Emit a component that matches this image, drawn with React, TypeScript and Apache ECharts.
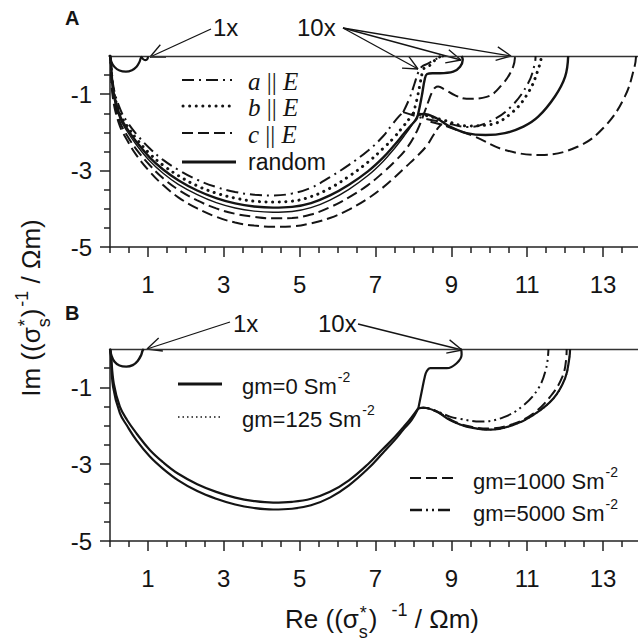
import React, { useEffect, useRef } from 'react';
import * as echarts from 'echarts';

// ---------- axis ticks / labels ----------
const X_MAJOR = [1, 3, 5, 7, 9, 11, 13];
const X_MINOR = [0, 0.5, 1.5, 2, 2.5, 3.5, 4, 4.5, 5.5, 6, 6.5, 7.5, 8, 8.5, 9.5, 10, 10.5, 11.5, 12, 12.5, 13.5, 14];
const Y_MAJOR = [-5, -3, -1];
const Y_MINOR = [-4.5, -4, -3.5, -2.5, -2, -1.5, -0.5];

// ---------- Panel A ----------
const A_1x = [[0, 0], [0.04, -0.16], [0.12, -0.29], [0.25, -0.38], [0.42, -0.41], [0.58, -0.37], [0.7, -0.28], [0.78, -0.15], [0.83, -0.02], [0.87, -0.08], [0.93, -0.11], [0.99, -0.07], [1.0, -0.01]];

// a || E (dash-dot)
const A_a_main = [[0, 0], [0.02, -0.12], [0.1, -0.85], [0.28, -1.42], [0.45, -1.72], [0.7, -2.05], [1.05, -2.42], [1.4, -2.72], [1.8, -2.98], [2.3, -3.24], [2.8, -3.43], [3.3, -3.56], [3.8, -3.63], [4.3, -3.65], [4.8, -3.6], [5.3, -3.45], [5.8, -3.17], [6.3, -2.85], [6.8, -2.48], [7.2, -2.1], [7.45, -1.78], [7.6, -1.6], [7.73, -1.47]];
const A_a_loop = [[7.73, -1.47], [7.9, -1.1], [8.03, -0.72], [8.13, -0.42], [8.22, -0.28], [8.38, -0.2], [8.55, -0.1], [8.7, -0.03], [8.8, 0]];
const A_a_arc2 = [[7.73, -1.47], [8.26, -1.63], [8.82, -1.74], [9.44, -1.86], [10.04, -1.7], [10.57, -1.33], [11.02, -0.72], [11.2, -0.2], [11.22, 0]];

// b || E (dotted)
const A_b_main = [[0, 0], [0.02, -0.12], [0.09, -0.9], [0.27, -1.52], [0.45, -1.83], [0.7, -2.17], [1.05, -2.56], [1.4, -2.86], [1.8, -3.13], [2.3, -3.4], [2.8, -3.59], [3.3, -3.72], [3.8, -3.8], [4.3, -3.82], [4.8, -3.8], [5.3, -3.68], [5.8, -3.46], [6.3, -3.15], [6.8, -2.78], [7.2, -2.42], [7.5, -2.12], [7.75, -1.82], [7.9, -1.63], [8.0, -1.5]];
const A_b_loop = [[8.0, -1.5], [8.1, -1.1], [8.18, -0.7], [8.24, -0.42], [8.3, -0.3], [8.4, -0.27], [8.5, -0.18], [8.62, -0.06], [8.75, 0]];
const A_b_arc2 = [[8.0, -1.5], [8.3, -1.55], [8.8, -1.68], [9.4, -1.83], [10.0, -1.8], [10.6, -1.48], [11.05, -0.92], [11.3, -0.32], [11.38, 0]];

// c || E (dashed) - two traces
const A_c1_main = [[0, 0], [0.02, -0.12], [0.08, -1.0], [0.25, -1.7], [0.45, -2.08], [0.7, -2.45], [1.05, -2.86], [1.4, -3.2], [1.8, -3.5], [2.3, -3.78], [2.8, -3.99], [3.3, -4.13], [3.8, -4.21], [4.3, -4.25], [4.8, -4.24], [5.3, -4.15], [5.8, -3.96], [6.3, -3.7], [6.8, -3.38], [7.2, -3.05], [7.5, -2.77], [7.82, -2.42], [8.1, -1.95], [8.3, -1.45], [8.42, -1.12], [8.5, -0.93], [8.57, -0.83], [8.65, -0.8], [8.83, -0.88], [9.1, -1.03], [9.4, -1.12], [9.93, -1.07], [10.37, -0.71], [10.63, -0.28], [10.68, 0]];
const A_c2_main = [[0, 0], [0.02, -0.12], [0.07, -1.05], [0.24, -1.78], [0.45, -2.2], [0.7, -2.6], [1.05, -3.03], [1.4, -3.38], [1.8, -3.7], [2.3, -3.99], [2.8, -4.21], [3.3, -4.36], [3.8, -4.44], [4.3, -4.47], [4.8, -4.46], [5.3, -4.38], [5.8, -4.24], [6.3, -4.02], [6.8, -3.73], [7.2, -3.44], [7.5, -3.18], [7.8, -2.9], [8.1, -2.62], [8.35, -2.35], [8.52, -2.08], [8.65, -1.88], [8.75, -1.78]];
const A_c2_arc2 = [[8.45, -1.72], [8.75, -1.8], [9.1, -1.92], [9.62, -2.11], [10.41, -2.46], [11.36, -2.59], [12.34, -2.37], [13.04, -1.85], [13.57, -1.07], [13.83, -0.28], [13.87, 0]];

// random (solid)
const A_r_main = [[0, 0], [0.02, -0.12], [0.09, -0.92], [0.26, -1.56], [0.45, -1.9], [0.7, -2.25], [1.05, -2.66], [1.4, -2.97], [1.8, -3.25], [2.3, -3.52], [2.8, -3.72], [3.3, -3.86], [3.8, -3.94], [4.3, -3.97], [4.8, -3.95], [5.3, -3.85], [5.8, -3.65], [6.3, -3.37], [6.8, -3.02], [7.2, -2.66], [7.5, -2.33], [7.75, -2.03], [7.95, -1.8], [8.08, -1.65], [8.12, -1.54], [8.22, -1.05], [8.3, -0.6], [8.36, -0.47], [8.5, -0.45], [8.7, -0.45], [9.05, -0.41], [9.23, -0.28], [9.3, -0.1], [9.27, 0]];
const A_r_outer = [[0, 0], [0.02, -0.12], [0.08, -0.97], [0.26, -1.63], [0.45, -1.97], [0.7, -2.33], [1.05, -2.75], [1.4, -3.07], [1.8, -3.36], [2.3, -3.63], [2.8, -3.84], [3.3, -3.98], [3.8, -4.06], [4.3, -4.09], [4.8, -4.07], [5.3, -3.97], [5.8, -3.77], [6.3, -3.49], [6.8, -3.13], [7.2, -2.76], [7.5, -2.42], [7.75, -2.1], [7.95, -1.82], [8.12, -1.54]];
const A_r_arc2 = [[8.12, -1.54], [8.26, -1.52], [8.61, -1.63], [8.96, -1.85], [9.4, -2.02], [9.9, -2.07], [10.41, -2.02], [10.9, -1.85], [11.29, -1.59], [11.73, -1.06], [12.0, -0.54], [12.08, 0]];

// ---------- Panel B ----------
const B_1x = [[0, 0], [0.04, -0.18], [0.12, -0.33], [0.25, -0.43], [0.43, -0.46], [0.6, -0.42], [0.73, -0.31], [0.82, -0.16], [0.86, -0.04], [0.89, 0]];
const B_inner = [[0, 0], [0.02, -0.1], [0.1, -0.9], [0.26, -1.5], [0.45, -1.85], [0.7, -2.2], [1.05, -2.63], [1.4, -2.95], [1.8, -3.25], [2.3, -3.52], [2.8, -3.72], [3.3, -3.87], [3.8, -3.96], [4.3, -4.0], [4.8, -3.98], [5.3, -3.9], [5.8, -3.72], [6.3, -3.42], [6.8, -3.0], [7.2, -2.6], [7.5, -2.3], [7.75, -2.02], [7.95, -1.78], [8.13, -1.54]];
const B_outer = [[0, 0], [0.02, -0.1], [0.08, -0.98], [0.26, -1.67], [0.45, -2.0], [0.7, -2.38], [1.05, -2.8], [1.4, -3.12], [1.8, -3.42], [2.3, -3.7], [2.8, -3.9], [3.3, -4.05], [3.8, -4.14], [4.3, -4.18], [4.8, -4.16], [5.3, -4.07], [5.8, -3.87], [6.3, -3.55], [6.8, -3.12], [7.2, -2.7], [7.5, -2.38], [7.75, -2.08], [7.95, -1.85], [8.13, -1.54]];
const B_loop = [[8.13, -1.54], [8.22, -1.1], [8.3, -0.72], [8.35, -0.58], [8.44, -0.5], [8.65, -0.5], [8.88, -0.5], [9.14, -0.37], [9.27, -0.15], [9.26, -0.02], [9.22, 0]];
const B_arc_0 = [[8.13, -1.54], [8.26, -1.53], [8.61, -1.63], [8.96, -1.85], [9.4, -2.02], [10.02, -2.1], [10.63, -1.98], [11.16, -1.72], [11.69, -1.29], [12.0, -0.76], [12.11, -0.24], [12.13, 0]];
const B_arc_125 = [[8.13, -1.54], [8.26, -1.53], [8.61, -1.63], [8.96, -1.85], [9.4, -2.02], [10.02, -2.1], [10.63, -1.98], [11.16, -1.72], [11.69, -1.29], [12.0, -0.76], [12.11, -0.24], [12.13, 0]];
const B_arc_1000 = [[8.13, -1.54], [8.26, -1.53], [8.61, -1.62], [8.96, -1.83], [9.4, -2.0], [10.02, -2.07], [10.63, -1.95], [11.16, -1.68], [11.6, -1.25], [11.92, -0.74], [12.03, -0.24], [12.04, 0]];
const B_arc_5000 = [[8.13, -1.54], [8.26, -1.53], [8.61, -1.62], [8.96, -1.76], [9.23, -1.82], [9.76, -1.89], [10.37, -1.78], [10.9, -1.47], [11.29, -1.03], [11.5, -0.5], [11.56, 0]];

const SANS = "'Liberation Sans', Arial, sans-serif";
const SERIF = "'Liberation Serif', 'Times New Roman', serif";
const INK = '#141414';

const DASHDOT = [12, 5, 2, 5];
const DOTS = [0.1, 6.5];
const DASH = [11, 5];
const DASHDOTDOT = [12, 4, 2, 4, 2, 4];

let ctx: CanvasRenderingContext2D | null = null;
function tw(text: string, size: number, family = '"Liberation Sans"', style = '') {
  if (!ctx) ctx = document.createElement('canvas').getContext('2d');
  ctx!.font = `${style ? style + ' ' : ''}${size}px ${family}`;
  return ctx!.measureText(text).width;
}

function txt(x: number, y: number, text: string, size: number, extra: any = {}) {
  return {
    type: 'text',
    x, y,
    silent: true,
    style: {
      text, x: 0, y: 0, fill: INK, fontSize: size, fontFamily: SANS,
      align: 'left', verticalAlign: 'middle', textAlign: 'left', textVerticalAlign: 'middle',
      ...extra,
    },
  };
}

function seg(x1: number, y1: number, x2: number, y2: number, width = 1.3, dash: any = null, cap = 'butt') {
  return {
    type: 'line', silent: true,
    shape: { x1, y1, x2, y2 },
    style: { stroke: INK, lineWidth: width, lineDash: dash, lineCap: cap },
  };
}

function arrow(x1: number, y1: number, x2: number, y2: number) {
  const a = Math.atan2(y1 - y2, x1 - x2);
  const L = 16, th = 0.44;
  return [
    seg(x1, y1, x2, y2),
    seg(x2, y2, x2 + L * Math.cos(a + th), y2 + L * Math.sin(a + th)),
    seg(x2, y2, x2 + L * Math.cos(a - th), y2 + L * Math.sin(a - th)),
  ];
}

const MAIN = 26, SMALL = 18;
function buildTitle(segs: [string, string][]) {
  let x = 0;
  const out: { t: string; s: number; x: number; dy: number }[] = [];
  for (const [t, k] of segs) {
    if (k === 'm') { out.push({ t, s: MAIN, x, dy: 0 }); x += tw(t, MAIN); }
    else if (k === 'gap') { x += Number(t); }
    else if (k === 'sup') { out.push({ t, s: SMALL, x, dy: -9 }); x += tw(t, SMALL); }
    else {
      out.push({ t: 's', s: SMALL, x, dy: 13 });
      out.push({ t: '*', s: SMALL, x: x + 1, dy: -6 });
      x += Math.max(tw('s', SMALL), tw('*', SMALL)) + 1;
    }
  }
  return { out, width: x };
}

function supLabel(x: number, y: number, main: string, sup: string, size: number) {
  const w = tw(main, size);
  return [txt(x, y, main, size), txt(x + w + 1, y - 9, sup, 14)];
}

function serifLabel(x: number, y: number, letter: string) {
  const fam = '"Liberation Serif"';
  const SZ = 25;
  const w1 = tw(letter, SZ, fam, 'italic');
  const mid = ' || ';
  const w2 = tw(mid, SZ, fam);
  return [
    txt(x, y, letter, SZ, { fontFamily: SERIF, fontStyle: 'italic' }),
    txt(x + w1, y, mid, SZ, { fontFamily: SERIF }),
    txt(x + w1 + w2, y, 'E', SZ, { fontFamily: SERIF, fontStyle: 'italic' }),
  ];
}

function buildOption() {
  const axisLS = { color: '#222', width: 1.5 };
  const lab = { fontSize: 24, fontFamily: SANS, color: INK };
  const xAxes = (gi: number) => [
    { gridIndex: gi, type: 'value', min: 0, max: 14, position: 'bottom',
      axisLine: { show: true, onZero: false, lineStyle: axisLS },
      axisTick: { show: true, customValues: X_MAJOR, length: 10, lineStyle: axisLS },
      axisLabel: { show: true, customValues: X_MAJOR, margin: 25, ...lab },
      splitLine: { show: false } },
    { gridIndex: gi, type: 'value', min: 0, max: 14, position: 'bottom',
      axisLine: { show: false, onZero: false },
      axisTick: { show: true, customValues: X_MINOR, length: 6, lineStyle: axisLS },
      axisLabel: { show: false }, splitLine: { show: false } },
    { gridIndex: gi, type: 'value', min: 0, max: 14, position: 'top',
      axisLine: { show: true, onZero: false, lineStyle: { color: '#333', width: 1.3 } },
      axisTick: { show: false }, axisLabel: { show: false }, splitLine: { show: false } },
  ];
  const yAxes = (gi: number) => [
    { gridIndex: gi, type: 'value', min: -5, max: 0, position: 'left',
      axisLine: { show: true, onZero: false, lineStyle: axisLS },
      axisTick: { show: true, customValues: Y_MAJOR, length: 10, lineStyle: axisLS },
      axisLabel: { show: true, customValues: Y_MAJOR, margin: 18, ...lab },
      splitLine: { show: false } },
    { gridIndex: gi, type: 'value', min: -5, max: 0, position: 'left',
      axisLine: { show: false, onZero: false },
      axisTick: { show: true, customValues: Y_MINOR, length: 6, lineStyle: axisLS },
      axisLabel: { show: false }, splitLine: { show: false } },
  ];

  const S = (name: string, data: number[][], panel: number, type: any, width = 2, cap = 'butt') => ({
    type: 'line', name, data,
    xAxisIndex: panel === 0 ? 0 : 3, yAxisIndex: panel === 0 ? 0 : 2,
    showSymbol: false, symbol: 'none', smooth: 0.4, silent: true, clip: true,
    lineStyle: { color: INK, width, type, cap },
  });

  const series = [
    S('A 1x', A_1x, 0, 'solid', 2.2),
    S('a||E', A_a_main, 0, DASHDOT, 2),
    S('a||E 10x', A_a_loop, 0, DASHDOT, 2),
    S('a||E arc2', A_a_arc2, 0, DASHDOT, 2),
    S('b||E', A_b_main, 0, DOTS, 3, 'round'),
    S('b||E 10x', A_b_loop, 0, DOTS, 3, 'round'),
    S('b||E arc2', A_b_arc2, 0, DOTS, 3, 'round'),
    S('c||E', A_c1_main, 0, DASH, 2),
    S('c||E 2', A_c2_main, 0, DASH, 2),
    S('c||E arc2', A_c2_arc2, 0, DASH, 2),
    S('random outer', A_r_outer, 0, 'solid', 1.4),
    S('random', A_r_main, 0, 'solid', 2.4),
    S('random arc2', A_r_arc2, 0, 'solid', 2.4),

    S('B 1x', B_1x, 1, 'solid', 2.4),
    S('gm inner', B_inner, 1, 'solid', 2.2),
    S('gm outer', B_outer, 1, 'solid', 2.2),
    S('gm 10x', B_loop, 1, 'solid', 2.2),
    S('gm=125', B_arc_125, 1, [1.5, 3], 1.5),
    S('gm=0', B_arc_0, 1, 'solid', 2.2),
    S('gm=1000', B_arc_1000, 1, DASH, 2),
    S('gm=5000', B_arc_5000, 1, DASHDOTDOT, 2),
  ];

  const g: any[] = [];
  // panel letters
  g.push(txt(65, 18, 'A', 20, { fontWeight: 'bold' }));
  g.push(txt(65, 313, 'B', 20, { fontWeight: 'bold' }));

  // annotations panel A
  g.push(txt(213, 27, '1x', 24));
  g.push(...arrow(211, 29, 150, 57));
  g.push(txt(297, 27, '10x', 24));
  g.push(...arrow(343, 28, 418, 69));
  g.push(...arrow(343, 28, 461, 60));
  g.push(...arrow(343, 28, 511, 56));

  // annotations panel B
  g.push(txt(233, 323, '1x', 24));
  g.push(...arrow(230, 322, 147, 349));
  g.push(txt(318, 323, '10x', 24));
  g.push(...arrow(358, 324, 462, 350));

  // legend A
  const rowsA = [80, 106, 133, 162];
  g.push(seg(182, rowsA[0], 232, rowsA[0], 2, DASHDOT));
  g.push(seg(183, rowsA[1], 232, rowsA[1], 3, DOTS, 'round'));
  g.push(seg(182, rowsA[2], 232, rowsA[2], 2, DASH));
  g.push(seg(182, rowsA[3], 236, rowsA[3], 3));
  g.push(...serifLabel(248, rowsA[0] + 1, 'a'));
  g.push(...serifLabel(248, rowsA[1] + 1, 'b'));
  g.push(...serifLabel(248, rowsA[2] + 1, 'c'));
  g.push(txt(248, rowsA[3], 'random', 23));

  // legend B
  g.push(seg(178, 384, 222, 384, 3));
  g.push(seg(178, 417, 222, 417, 1.5, [1.5, 3]));
  g.push(...supLabel(242, 386, 'gm=0 Sm', '-2', 22));
  g.push(...supLabel(242, 419, 'gm=125 Sm', '-2', 22));
  g.push(seg(410, 478, 453, 478, 2, DASH));
  g.push(seg(410, 510, 453, 510, 2.4, DASHDOTDOT));
  g.push(...supLabel(473, 481, 'gm=1000 Sm', '-2', 22));
  g.push(...supLabel(473, 513, 'gm=5000 Sm', '-2', 22));

  // x axis title
  const xt = buildTitle([['Re ((σ', 'm'], ['s', 's*'], [')', 'm'], ['14', 'gap'], ['-1', 'sup'], [' / Ωm)', 'm']]);
  const xs = 382 - xt.width / 2;
  for (const p of xt.out) g.push(txt(xs + p.x, 619 + p.dy, p.t, p.s));

  // y axis title (rotated)
  const yt = buildTitle([['Im ((σ', 'm'], ['s', 's*'], [')', 'm'], ['2', 'gap'], ['-1', 'sup'], [' / Ωm)', 'm']]);
  g.push({
    type: 'group', x: 31, y: 308, rotation: Math.PI / 2, silent: true,
    children: yt.out.map((p) => txt(p.x - yt.width / 2, p.dy, p.t, p.s)),
  });

  return {
    animation: false,
    backgroundColor: '#ffffff',
    grid: [
      { left: 110, top: 56, width: 531, height: 191, outerBoundsMode: 'none', containLabel: false },
      { left: 110, top: 349, width: 531, height: 192, outerBoundsMode: 'none', containLabel: false },
    ],
    xAxis: [...xAxes(0), ...xAxes(1)],
    yAxis: [...yAxes(0), ...yAxes(1)],
    series,
    graphic: { elements: g },
  };
}

export default function App() {
  const ref = useRef<HTMLDivElement>(null);
  useEffect(() => {
    const chart = echarts.init(ref.current!, null, { renderer: 'svg' });
    chart.setOption(buildOption() as any);
    return () => chart.dispose();
  }, []);
  return (
    <div
      ref={ref}
      style={{ position: 'fixed', left: 0, top: 0, width: 638, height: 641, background: '#fff' }}
    />
  );
}
